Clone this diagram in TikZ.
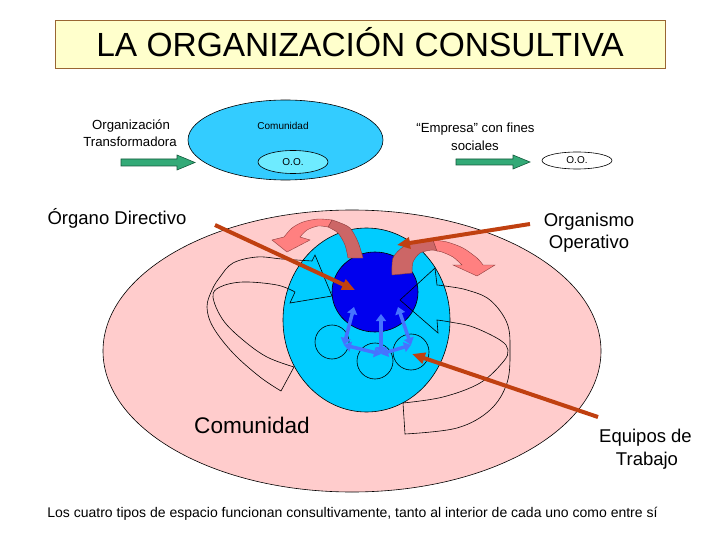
\documentclass[tikz,border=0pt]{standalone}
\usepackage{fontspec}
\setmainfont{Liberation Sans}
\usetikzlibrary{shapes.geometric,arrows.meta,calc}
\definecolor{pinkbg}{RGB}{255,204,204}
\definecolor{cyanc}{RGB}{0,204,255}
\definecolor{darkb}{RGB}{0,0,238}
\definecolor{topblue}{RGB}{51,204,255}
\definecolor{paleblue}{RGB}{110,235,255}
\definecolor{greenar}{RGB}{51,170,119}
\definecolor{greenbd}{RGB}{20,90,60}
\definecolor{brownln}{RGB}{192,64,16}
\definecolor{bluear}{RGB}{70,115,255}
\definecolor{salmonl}{RGB}{255,128,128}
\definecolor{salmond}{RGB}{204,102,102}
\definecolor{salmonbd}{RGB}{140,60,60}
\definecolor{titlefill}{RGB}{255,255,204}
\definecolor{titlebd}{RGB}{153,102,51}
\newcommand\myfs[1]{\fontsize{#1}{#1}\selectfont}
\begin{document}
\begin{tikzpicture}[x=1pt,y=-1pt,
  txt/.style={anchor=base, inner sep=0pt},
  ell/.style={ellipse, draw=black, line width=0.6pt, inner sep=0pt},
  greenarrow/.style={fill=greenar, draw=greenbd, line width=0.6pt},
  outline/.style={draw=black, line width=0.6pt},
  salmonbody/.style={draw=salmonbd, line width=0.4pt},
  pointer/.style={draw=brownln, line width=4pt, -{Triangle[length=13pt,width=11pt]}},
  bluelink/.style={draw=bluear, line width=3.5pt, {Triangle[length=7pt,width=10pt]}-{Triangle[length=7pt,width=10pt]}}]
\useasboundingbox (0,0) rectangle (720,540);
\fill[white] (0,0) rectangle (720,540);

% title
\node[draw=titlebd, fill=titlefill, line width=0.8pt, minimum width=610pt, minimum height=48pt, inner sep=0pt] (titlebox) at (360,44) {};
\node[txt, font={\myfs{33.5}}] (title) at (360,57) {LA ORGANIZACIÓN CONSULTIVA};

% top row
\node[txt, font={\myfs{13.2}}] (ot1) at (131,130) {Organización};
\node[txt, font={\myfs{13.2}}] (ot2) at (130,147) {Transformadora};
\fill[greenarrow] (121,159) -- (177,159) -- (177,155) -- (195,162.5) -- (177,170) -- (177,166) -- (121,166) -- cycle;
\node[ell, fill=topblue, minimum width=195pt, minimum height=80pt] (comtop) at (285.5,140) {};
\node[txt, font={\myfs{10}}] (comtoptxt) at (283,130) {Comunidad};
\node[ell, fill=paleblue, minimum width=70pt, minimum height=23pt] (ootop) at (293,162) {};
\node[txt, font={\myfs{10}}] at (293,165.5) {O.O.};

\node[txt, font={\myfs{13.2}}] (em1) at (475.5,133) {“Empresa” con fines};
\node[txt, font={\myfs{13.2}}] (em2) at (475,151) {sociales};
\fill[greenarrow] (456,159) -- (513,159) -- (513,155) -- (530,162) -- (513,169) -- (513,165) -- (456,165) -- cycle;
\node[ell, fill=white, minimum width=70pt, minimum height=17pt] (oor) at (577,160.5) {};
\node[txt, font={\myfs{10}}] at (577,164) {O.O.};

% main diagram
\node[ell, fill=pinkbg, minimum width=498pt, minimum height=282pt] (comunidad) at (352,351) {};
\node[ell, fill=cyanc, minimum width=167pt, minimum height=184pt] (organismo) at (366.5,320) {};
\node[ell, fill=darkb, minimum width=86pt, minimum height=80pt] (organo) at (375,292) {};
\node[ell, minimum width=34pt, minimum height=34pt] (eq1) at (332,342) {};
\node[ell, minimum width=36pt, minimum height=36pt] (eq2) at (375,361) {};
\node[ell, minimum width=36pt, minimum height=36pt] (eq3) at (411,352) {};

% outline curved arrows
\draw[outline] plot[smooth, tension=0.6] coordinates {(281,391) (260,377) (233,353) (213,327) (207,307) (212,290) (220,277) (233,263) (257,257) (282,259) (312,261)}
  -- (315,255) -- (332,296) -- (290,303) -- (295,292)
  -- plot[smooth, tension=0.6] coordinates {(295,292) (277,285) (243,282) (220,287) (213,297) (223,320) (243,340) (267,357) (294,367)} -- cycle;
\draw[outline] plot[smooth, tension=0.6] coordinates {(403,403) (443,397) (480,383) (503,362) (508,350) (500,340) (473,327) (450,322) (437,320)}
  -- (438,333) -- (400,300) -- (435,268) -- (437,285)
  -- plot[smooth, tension=0.6] coordinates {(437,285) (445,286) (467,290) (490,300) (507,323) (510,350) (507,383) (490,410) (457,428) (405,434)} -- cycle;

% blue arrows
\coordinate (bl) at (344,345);
\coordinate (bm) at (381,354);
\coordinate (br) at (411,345);
\coordinate (ul) at (354,307);
\coordinate (um) at (381,314);
\coordinate (ur) at (398,307);
\draw[bluelink] (bl) -- (ul);
\draw[bluelink] (bm) -- (um);
\draw[bluelink] (br) -- (ur);
\draw[bluelink] (bl) -- (bm);
\draw[bluelink] (bm) -- (br);

% salmon curved arrows
\filldraw[salmonbody, fill=salmond] plot[smooth] coordinates {(332,220) (338,222) (350,228) (358,242) (363,258)} -- (348,258)
  -- plot[smooth] coordinates {(348,258) (345,245) (338,233) (328,227)} -- cycle;
\filldraw[salmonbody, fill=salmonl] plot[smooth] coordinates {(332,220) (318,219) (303,222) (292,228) (284,237)} -- (272,240) -- (287,252) -- (310,240) -- (300,237)
  -- plot[smooth] coordinates {(300,237) (307,230) (318,226) (328,227)} -- cycle;
\filldraw[salmonbody, fill=salmond] plot[smooth] coordinates {(392,275) (393,258) (403,247) (417,242) (433,240)} -- (437,251)
  -- plot[smooth] coordinates {(437,251) (432,250) (420,253) (413,262) (412,273)} -- cycle;
\filldraw[salmonbody, fill=salmonl] plot[smooth] coordinates {(433,240) (447,242) (463,248) (477,258) (483,265)} -- (495,265) -- (477,276) -- (453,265) -- (462,265)
  -- plot[smooth] coordinates {(462,265) (453,257) (442,252) (437,251)} -- cycle;

% labels
\node[txt, font={\myfs{18.5}}] (lorg) at (117,225) {Órgano Directivo};
\node[txt, font={\myfs{18.5}}] (lop1) at (589,226) {Organismo};
\node[txt, font={\myfs{18.5}}] (lop2) at (589,248) {Operativo};
\node[txt, font={\myfs{22.6}}] (lcom) at (252,433) {Comunidad};
\node[txt, font={\myfs{18.5}}] (leq1) at (645.5,442) {Equipos de};
\node[txt, font={\myfs{18.5}}] (leq2) at (647,465) {Trabajo};
\node[txt, font={\myfs{14}}] (caption) at (352.5,517) {Los cuatro tipos de espacio funcionan consultivamente, tanto al interior de cada uno como entre sí};

% pointers
\coordinate (p1) at (215,225);
\coordinate (p1t) at (355,290);
\coordinate (p2) at (530,224);
\coordinate (p2t) at (397,245);
\coordinate (p3) at (598,417);
\coordinate (p3t) at (412,354);
\draw[pointer] (p1) -- (p1t);
\draw[pointer] (p2) -- (p2t);
\draw[pointer] (p3) -- (p3t);
\end{tikzpicture}
\end{document}
